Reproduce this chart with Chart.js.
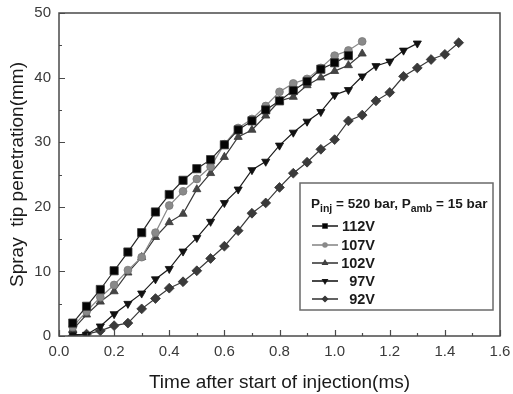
<!DOCTYPE html>
<html>
<head>
<meta charset="utf-8">
<script src="https://cdn.jsdelivr.net/npm/chart.js@4.4.1/dist/chart.umd.min.js"></script>
<style>
  html, body { margin: 0; padding: 0; background: #fff; }
  #wrap { width: 513px; height: 394px; }
</style>
</head>
<body>
<div id="wrap"><canvas id="c" width="513" height="394"></canvas></div>
<script>
// Time after start of injection (ms), one sample every 0.05 ms
const times = [0.05, 0.10, 0.15, 0.20, 0.25, 0.30, 0.35, 0.40, 0.45, 0.50,
               0.55, 0.60, 0.65, 0.70, 0.75, 0.80, 0.85, 0.90, 0.95, 1.00,
               1.05, 1.10, 1.15, 1.20, 1.25, 1.30, 1.35, 1.40, 1.45];

// Spray tip penetration (mm) for each driving voltage
const pen112V = [2.0, 4.6, 7.2, 10.1, 13.0, 16.0, 19.2, 21.9, 24.1, 25.9,
                 27.3, 29.6, 31.9, 33.3, 35.0, 36.4, 38.0, 39.4, 41.3, 42.3,
                 43.4];
const pen107V = [1.4, 3.8, 6.0, 7.9, 10.2, 12.2, 16.0, 20.2, 22.4, 24.3,
                 26.2, 29.7, 32.2, 33.6, 35.6, 37.8, 39.1, 39.8, 41.5, 43.4,
                 44.2, 45.6];
const pen102V = [1.0, 3.3, 5.3, 6.9, 9.8, 12.2, 15.3, 17.6, 18.9, 22.7,
                 25.2, 27.7, 30.8, 31.9, 34.1, 36.4, 37.0, 38.8, 40.0, 41.0,
                 41.9, 43.7];
const pen97V  = [0.2, 0.2, 1.5, 3.4, 5.0, 6.6, 8.8, 10.4, 13.1, 15.2,
                 17.7, 20.6, 22.7, 25.7, 27.0, 29.5, 31.5, 33.2, 34.7, 37.3,
                 38.1, 40.2, 41.8, 42.5, 44.2, 45.3];
const pen92V  = [0.0, 0.3, 0.8, 1.6, 2.0, 4.2, 5.8, 7.4, 8.4, 10.1,
                 12.0, 13.9, 16.3, 19.0, 20.6, 23.0, 25.2, 26.9, 28.9, 30.4,
                 33.3, 34.2, 36.4, 37.7, 40.2, 41.5, 42.8, 43.6, 45.4];

const seriesLabels = ['112V', '107V', '102V', '97V', '92V'];
const xTicks = [0.0, 0.2, 0.4, 0.6, 0.8, 1.0, 1.2, 1.4, 1.6];
const yTicks = [0, 10, 20, 30, 40, 50];

const FONT = '"Liberation Sans", Arial, sans-serif';

function pairs(values) {
  return values.map((v, i) => ({ x: times[i], y: v }));
}

const styles = [
  { style: 'rect',     radius: 5.8, rot: 0,   fill: '#050505', border: '#3a3a3a', line: '#262626' },
  { style: 'circle',   radius: 3.9, rot: 0,   fill: '#8a8a8a', border: '#7a7a7a', line: '#8a8a8a' },
  { style: 'triangle', radius: 4.7, rot: 0,   fill: '#454545', border: '#3a3a3a', line: '#3a3a3a' },
  { style: 'triangle', radius: 4.7, rot: 180, fill: '#111111', border: '#111111', line: '#1a1a1a' },
  { style: 'rectRot',  radius: 4.9, rot: 0,   fill: '#3a3a3a', border: '#333333', line: '#3a3a3a' }
];
const seriesValues = [pen112V, pen107V, pen102V, pen97V, pen92V];

const datasets = seriesValues.map((vals, i) => ({
  label: seriesLabels[i],
  data: pairs(vals),
  borderColor: styles[i].line,
  borderWidth: 1.2,
  backgroundColor: styles[i].fill,
  pointStyle: styles[i].style,
  pointRadius: styles[i].radius,
  pointRotation: styles[i].rot,
  pointBackgroundColor: styles[i].fill,
  pointBorderColor: styles[i].border,
  pointBorderWidth: 0.8,
  tension: 0,
  fill: false
}));

// Frame around the plot area and inward-pointing ticks on the bottom/left axes
const framePlugin = {
  id: 'frame',
  afterDraw(chart) {
    const { ctx, chartArea: a, scales } = chart;
    ctx.save();
    ctx.strokeStyle = '#4a4a4a';
    ctx.lineWidth = 1.5;
    ctx.strokeRect(a.left, a.top, a.right - a.left, a.bottom - a.top);
    ctx.lineWidth = 1.2;
    ctx.beginPath();
    for (let k = 0; k <= 16; k++) {
      const v = k / 10;
      const px = Math.round(scales.x.getPixelForValue(v)) + 0.5;
      const len = (k % 2 === 0) ? 6 : 3;
      ctx.moveTo(px, a.bottom);
      ctx.lineTo(px, a.bottom - len);
    }
    for (let k = 0; k <= 10; k++) {
      const v = k * 5;
      const py = Math.round(scales.y.getPixelForValue(v)) + 0.5;
      const len = (k % 2 === 0) ? 6 : 3;
      ctx.moveTo(a.left, py);
      ctx.lineTo(a.left + len, py);
    }
    ctx.stroke();
    ctx.restore();
  }
};

// Boxed legend with the test-condition heading
const legendPlugin = {
  id: 'boxLegend',
  afterDraw(chart) {
    const { ctx, chartArea: a } = chart;
    const bx = a.left + 241, by = a.top + 170, bw = 193, bh = 127;
    ctx.save();
    ctx.fillStyle = '#fff';
    ctx.fillRect(bx, by, bw, bh);
    ctx.strokeStyle = '#6a6a6a';
    ctx.lineWidth = 1.5;
    ctx.strokeRect(bx, by, bw, bh);

    // heading: P_inj = 520 bar, P_amb = 15 bar
    ctx.fillStyle = '#1a1a1a';
    ctx.textBaseline = 'alphabetic';
    ctx.textAlign = 'left';
    const big = 'bold 13.5px ' + FONT, small = 'bold 10.5px ' + FONT;
    const parts = [
      ['P', big, 0], ['inj', small, 4], [' = 520 bar, P', big, 0], ['amb', small, 4], [' = 15 bar', big, 0]
    ];
    let x = bx + 11;
    const base = by + 25;
    parts.forEach(([t, f, dy]) => {
      ctx.font = f;
      ctx.fillText(t, x, base + dy);
      x += ctx.measureText(t).width;
    });

    // entries
    const rowY = [by + 43, by + 62, by + 80, by + 98, by + 116];
    seriesLabels.forEach((lab, i) => {
      const y = rowY[i];
      const s = styles[i];
      ctx.strokeStyle = s.line;
      ctx.lineWidth = 1.6;
      ctx.beginPath();
      ctx.moveTo(bx + 12, y);
      ctx.lineTo(bx + 38, y);
      ctx.stroke();
      Chart.helpers.drawPoint(ctx, {
        pointStyle: s.style, radius: s.radius * 0.5, rotation: s.rot, borderWidth: 0.6
      }, bx + 25, y);
      ctx.fillStyle = s.fill;
      ctx.strokeStyle = s.border;
      ctx.fill();
      ctx.fillStyle = '#1a1a1a';
      ctx.font = 'bold 14.5px ' + FONT;
      ctx.textAlign = 'right';
      ctx.textBaseline = 'middle';
      ctx.fillText(lab, bx + 75, y + 1);
      ctx.textAlign = 'left';
      ctx.textBaseline = 'alphabetic';
    });
    ctx.restore();
  }
};

new Chart(document.getElementById('c'), {
  type: 'line',
  data: { datasets },
  options: {
    responsive: false,
    animation: false,
    devicePixelRatio: 1,
    layout: { padding: { top: 13, right: 13, left: 0, bottom: 0 } },
    plugins: {
      legend: { display: false },
      tooltip: { enabled: false }
    },
    scales: {
      x: {
        type: 'linear',
        min: 0, max: 1.6,
        afterFit(scale) {
          scale.height = 58;
          scale.paddingLeft = 0;
          scale.paddingRight = 0;
        },
        afterBuildTicks(scale) { scale.ticks = xTicks.map(v => ({ value: v })); },
        grid: { display: false, drawTicks: false },
        border: { display: false },
        ticks: {
          padding: 7,
          color: '#3a3a3a',
          font: { family: FONT, size: 15 },
          callback: v => v.toFixed(1)
        },
        title: {
          display: true,
          text: 'Time after start of injection(ms)',
          color: '#1a1a1a',
          font: { family: FONT, size: 19 },
          padding: { top: 5, bottom: 0 }
        }
      },
      y: {
        type: 'linear',
        min: 0, max: 50,
        afterFit(scale) {
          scale.width = 59;
          scale.paddingTop = 0;
          scale.paddingBottom = 0;
        },
        afterBuildTicks(scale) { scale.ticks = yTicks.map(v => ({ value: v })); },
        grid: { display: false, drawTicks: false },
        border: { display: false },
        ticks: {
          padding: 8,
          color: '#3a3a3a',
          font: { family: FONT, size: 15 }
        },
        title: {
          display: true,
          text: 'Spray  tip penetration(mm)',
          color: '#1a1a1a',
          font: { family: FONT, size: 19 },
          padding: { top: 6, bottom: 0 }
        }
      }
    }
  },
  plugins: [framePlugin, legendPlugin]
});
</script>
</body>
</html>
